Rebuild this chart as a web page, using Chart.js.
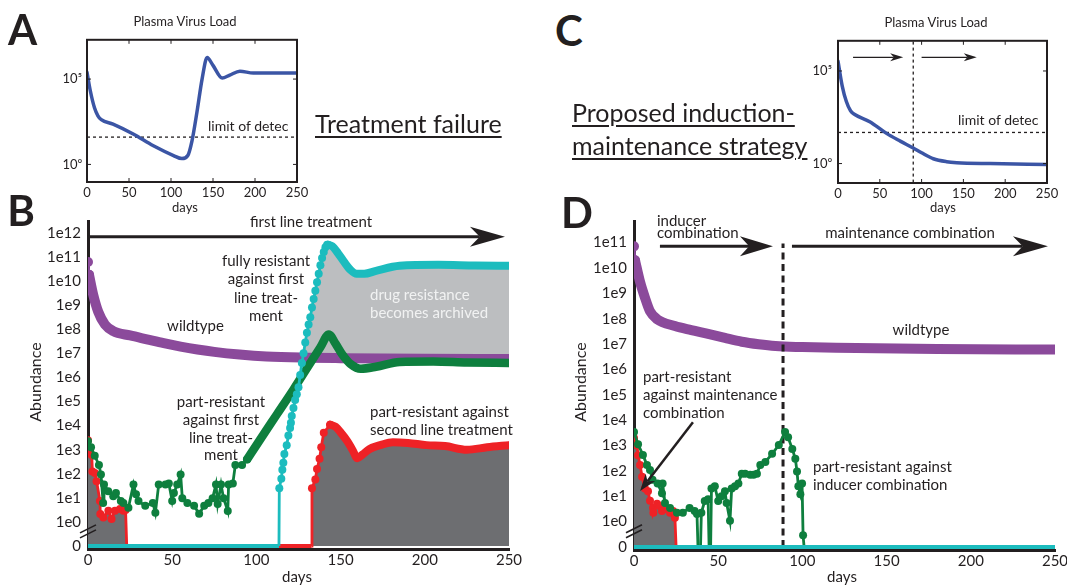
<!DOCTYPE html>
<html><head><meta charset="utf-8">
<script src="https://cdn.jsdelivr.net/npm/chart.js@4.4.1/dist/chart.umd.min.js"></script>
<style>
html,body{margin:0;padding:0;background:#fff;}
#root{position:relative;width:1067px;height:586px;overflow:hidden;font-family:Lato,'Liberation Sans',sans-serif;color:#231f20;}
canvas{position:absolute;}
.t{position:absolute;white-space:pre;}
</style></head><body><div id="root"></div>
<script>
// ---------------- DATA (log10 values; -1 stands for an abundance of 0) ----------------
const dayTicks = [0, 50, 100, 150, 200, 250];
const loadTicks = [0, 5];
const loadTickLabels = ['10\u2070', '10\u2075'];
const abundanceTicks = [-1, 0, 1, 2, 3, 4, 5, 6, 7, 8, 9, 10, 11, 12];
const abundanceTickLabels = ['0', '1e0', '1e1', '1e2', '1e3', '1e4', '1e5', '1e6', '1e7', '1e8', '1e9', '1e10', '1e11', '1e12'];

// Panel A: plasma virus load (log10), treatment failure
const plasmaLoadA = [[0,5.4],[4,4.3],[9,3.3],[13,2.85],[17,2.62],[31,2.36],[55,1.78],[79,1.09],[103,0.52],[113,0.34],[120,0.52],[125,1.38],[131,3.1],[137,5.0],[143,6.26],[150,5.8],[161,5.06],[170,5.23],[182,5.46],[198,5.35],[222,5.35],[250,5.35]];
const limitOfDetectionA = 1.6;

// Panel C: plasma virus load (log10), induction-maintenance
const plasmaLoadC = [[0,5.53],[5,4.2],[10,3.35],[15,2.85],[20,2.65],[38,2.26],[58,1.63],[75,1.2],[90,0.84],[100,0.58],[114,0.26],[130,0.1],[142,0.05],[182,0.0],[250,-0.05]];
const limitOfDetectionC = 1.68;
const switchDayC = 90;

// Panel B: abundance (log10)
const bWildtype = [[0,10.79],[0.6,10.26],[3.2,9.4],[6.1,8.72],[10.1,8.19],[15,7.92],[25,7.74],[35,7.58],[45,7.42],[55,7.28],[65,7.16],[75,7.06],[90,6.95],[106,6.87],[130,6.82],[150,6.8],[200,6.77],[250,6.76]];
const bPartResFirst = [[0,3.35],[1.8,3.1],[4,2.75],[6.5,2.37],[7.7,1.97],[9,0.79],[9.5,1.56],[12,1.28],[15,1.07],[16.6,1.2],[19.5,0.87],[21,0.79],[24,0.59],[27,1.56],[28.5,1.15],[30,0.87],[34,0.67],[38.5,0.79],[40,0.38],[42,1.56],[46,1.56],[48,1.6],[50,0.87],[51,1.2],[53,1.56],[55,1.97],[56,0.99],[59,0.79],[63,0.67],[66,0.34],[69,0.67],[71.5,0.79],[74,0.99],[76,1.56],[77,0.75],[79,1.56],[80.5,0.99],[83,0.46],[83.5,1.56],[86,1.6],[87.5,2.37],[91.5,2.37],[94.5,2.6],[102,3.4],[112,4.45],[122,5.5],[132,6.6],[138,7.25],[143,7.78],[147,7.4],[151,6.95],[156,6.55],[162,6.36],[171,6.44],[185,6.64],[205,6.66],[225,6.62],[250,6.6]];
const bFullyResistant = [[0,-1],[113.4,-1],[113.6,1.4],[114.8,1.8],[115.4,2.17],[116,2.46],[116.6,2.82],[118,3.19],[119,3.59],[120,3.9],[120.5,4.12],[121,4.4],[122,4.73],[123,5.06],[124,5.3],[125,5.59],[126,6.1],[127,6.6],[128,7.0],[129,7.45],[130,7.85],[131,8.2],[132,8.5],[133,8.9],[134,9.25],[135,9.6],[136,9.95],[137,10.3],[138,10.65],[139,10.95],[140,11.2],[141,11.4],[142,11.5],[142.6,11.5],[145,11.45],[148.5,11.15],[152,10.8],[156,10.45],[159.5,10.3],[164,10.3],[171,10.42],[185,10.63],[208,10.67],[230,10.64],[250,10.63]];
const bPartResSecond = [[0,3.39],[1.2,2.98],[2.2,2.78],[2.6,2.1],[4.1,2.03],[5.1,1.69],[7.1,0.87],[7.3,0.33],[9.1,0.19],[12.1,0.47],[14,0.13],[16,0.47],[19,0.54],[21,0.47],[22.3,0.5],[23,-1],[132.8,-1],[133,1.4],[135,1.76],[136,2.2],[137.5,2.62],[138.5,3.1],[140,3.7],[143.8,4.04],[147,3.95],[150,3.72],[154,3.35],[157,3.0],[160,2.65],[163,2.8],[167,3.02],[174,3.2],[181,3.31],[190,3.28],[201,3.19],[212,3.15],[225,3.0],[237,3.1],[250,3.19]];

// Panel D: abundance (log10)
const dWildtype = [[0,10.85],[0.6,10.3],[3.6,9.45],[6.5,8.83],[9.5,8.29],[13.7,7.98],[24.3,7.71],[34,7.55],[44,7.4],[54,7.24],[64,7.09],[74,6.99],[84,6.92],[100,6.88],[120,6.85],[180,6.8],[250,6.78]];
const dPartResInducer = [[0,3.53],[2.4,3.05],[5.3,2.63],[7.7,2.23],[9.5,2.03],[11,1.65],[14,1.5],[16.6,1.12],[17,1.5],[18.4,0.73],[21.4,0.54],[25.5,0.35],[29,0.35],[33,0.54],[36,0.42],[37.4,0.3],[38,-1],[39.5,-1],[40,0.35],[42,0.81],[44,0.88],[44.6,-1],[45.5,-1],[46,1.3],[48,1.39],[50,0.81],[52,1.0],[54,1.2],[55,0.73],[57,0.03],[58,1.3],[60,1.39],[62,1.5],[64,1.89],[66,1.89],[69,1.85],[71,1.85],[73,1.89],[75,2.23],[78,2.35],[82,2.67],[86,3.02],[89.7,3.53],[91.5,3.32],[94,2.86],[95.8,2.48],[96.8,1.97],[97.6,1.39],[98.8,1.08],[99.8,1.5],[100.4,-0.54],[101,-1],[250,-1]];
const dPartResMaintenance = [[0,3.3],[1.8,3.0],[2.4,2.62],[3.6,2.23],[4.8,1.77],[6.5,1.3],[8.3,1.2],[9.5,0.82],[11.3,0.54],[11.5,0.35],[13.7,0.7],[15.4,0.6],[16.6,0.42],[18.4,0.5],[21.4,0.35],[23.2,0.42],[24.3,0.15],[25,-1],[250,-1]];
const dFullyResistant = [[0,-1],[250,-1]];
const switchDayD = 88.5;

// ---------------- STYLE ----------------
const INK = '#231f20', TEAL = '#1cbcbe', GREEN = '#0e7f3e', RED = '#ee2226', PURPLE = '#8b4a9b', BLUE = '#3b55a5', LG = '#bcbec0', DG = '#6d6e71';
const NONE = 'rgba(0,0,0,0)';
Chart.defaults.font.family = 'Lato, "Liberation Sans", sans-serif';
Chart.defaults.color = INK;
const root = document.getElementById('root');

const P = a => a.map(([x, y]) => ({x, y}));
const splitAt = (s, d) => [s.filter(p => p[0] <= d), s.filter(p => p[0] >= d)];

function dotted(series, color, r, extra) {
  const data = P(series);
  return Object.assign({
    data, borderColor: color, backgroundColor: color, pointBackgroundColor: color, pointBorderWidth: 0,
    tension: 0, borderWidth: 2.8, fill: false,
    pointRadius: ctx => (ctx.dataIndex !== undefined && data[ctx.dataIndex] && data[ctx.dataIndex].y <= -1) ? 0 : r,
    segment: { borderWidth: ctx => (data[ctx.p0DataIndex].y <= -1 && data[ctx.p1DataIndex].y <= -1) ? 4 : 2.8 }
  }, extra || {});
}
function thick(series, color, w, extra) {
  return Object.assign({
    data: P(series), borderColor: color, backgroundColor: color, borderWidth: w, pointRadius: 0,
    cubicInterpolationMode: 'monotone', borderCapStyle: 'round', borderJoinStyle: 'round', fill: false
  }, extra || {});
}
function fillOnly(series, fill, color) {
  return {data: P(series), borderColor: NONE, backgroundColor: color, borderWidth: 1, pointRadius: 0, tension: 0, fill};
}

function drawArrow(ctx, x0, y0, x1, y1, lw, L, W) {
  const a = Math.atan2(y1 - y0, x1 - x0), c = Math.cos(a), s = Math.sin(a);
  const nx = x1 - c * L * 0.72, ny = y1 - s * L * 0.72;
  const px = x1 - c * L, py = y1 - s * L;
  ctx.save();
  ctx.strokeStyle = INK; ctx.fillStyle = INK; ctx.lineWidth = lw;
  ctx.beginPath(); ctx.moveTo(x0, y0); ctx.lineTo(nx, ny); ctx.stroke();
  ctx.beginPath(); ctx.moveTo(x1, y1);
  ctx.lineTo(px - s * W, py + c * W);
  ctx.lineTo(nx, ny);
  ctx.lineTo(px + s * W, py - c * W);
  ctx.closePath(); ctx.fill();
  ctx.restore();
}

function decoPlugin(spec) {
  return {
    id: 'deco',
    afterDraw(chart) {
      const ctx = chart.ctx, xs = chart.scales.x, ys = chart.scales.y, a = chart.chartArea;
      if (spec.frame) {
        ctx.save(); ctx.strokeStyle = INK; ctx.lineWidth = 2;
        ctx.strokeRect(a.left, a.top, a.right - a.left, a.bottom - a.top);
        ctx.lineWidth = 1;
        ctx.beginPath();
        spec.xTicks.forEach(v => { const p = xs.getPixelForValue(v); ctx.moveTo(p, a.bottom); ctx.lineTo(p, a.bottom - 4); ctx.moveTo(p, a.top); ctx.lineTo(p, a.top + 4); });
        spec.yTicks.forEach(v => { const p = ys.getPixelForValue(v); ctx.moveTo(a.left, p); ctx.lineTo(a.left + 4, p); ctx.moveTo(a.right, p); ctx.lineTo(a.right - 4, p); });
        ctx.stroke(); ctx.restore();
      }
      if (spec.brk !== undefined) {
        const y = ys.getPixelForValue(spec.brk), x = a.left;
        ctx.save(); ctx.strokeStyle = INK; ctx.lineWidth = 1.6;
        [-2.5, 2.5].forEach(dy => { ctx.beginPath(); ctx.moveTo(x - 8, y + dy + 4); ctx.lineTo(x + 8, y + dy - 4); ctx.stroke(); });
        ctx.restore();
      }
      (spec.arrows || []).forEach(r => {
        drawArrow(ctx, xs.getPixelForValue(r[0]), ys.getPixelForValue(r[1]), xs.getPixelForValue(r[2]), ys.getPixelForValue(r[3]), r[4], r[5], r[6]);
      });
    }
  };
}

function panel(o) {
  const left = o.area.l - o.yW, top = o.area.t - o.padT;
  const w = o.area.r + o.padR - left, h = o.area.b + o.xH - top;
  const c = document.createElement('canvas');
  c.width = w; c.height = h;
  c.style.left = left + 'px'; c.style.top = top + 'px'; c.style.width = w + 'px'; c.style.height = h + 'px';
  root.appendChild(c);
  const borderOpt = {display: !!o.border, color: INK, width: 3};
  return new Chart(c, {
    type: 'line',
    data: {datasets: o.datasets},
    options: {
      responsive: false, animation: false, devicePixelRatio: 1,
      layout: {padding: {left: 0, top: o.padT, right: o.padR, bottom: 0}},
      plugins: {legend: {display: false}, tooltip: {enabled: false}, filler: {drawTime: 'beforeDatasetsDraw'}},
      scales: {
        x: {
          type: 'linear', min: o.xMin, max: o.xMax,
          grid: {display: false, drawTicks: false}, border: borderOpt,
          ticks: {font: {size: o.font}, color: INK, padding: o.xPad, maxRotation: 0, autoSkip: false, callback: v => String(v)},
          afterBuildTicks: s => { s.ticks = o.xTicks.map(v => ({value: v})); },
          afterFit: s => { s.height = o.xH; }
        },
        y: {
          type: 'linear', min: o.yMin, max: o.yMax,
          grid: {display: false, drawTicks: false}, border: borderOpt,
          ticks: {font: {size: o.font}, color: INK, padding: o.yPad, autoSkip: false, callback: v => o.yLabels[o.yTicks.indexOf(v)]},
          afterBuildTicks: s => { s.ticks = o.yTicks.map(v => ({value: v})); },
          afterFit: s => { s.width = o.yW; }
        }
      }
    },
    plugins: [decoPlugin(o.deco)]
  });
}

// ---------- Panel A ----------
panel({
  area: {l: 87, t: 37, r: 297, b: 182}, yW: 50, xH: 20, padT: 10, padR: 20,
  xMin: 0, xMax: 250, yMin: -1.03, yMax: 7.3, xTicks: dayTicks, yTicks: loadTicks, yLabels: loadTickLabels,
  font: 13, xPad: 3, yPad: 5,
  datasets: [
    thick(plasmaLoadA, BLUE, 3.5),
    {data: P([[0, limitOfDetectionA], [250, limitOfDetectionA]]), borderColor: INK, borderWidth: 1.3, borderDash: [3, 3], pointRadius: 0}
  ],
  deco: {frame: true, xTicks: dayTicks, yTicks: loadTicks}
});

// ---------- Panel C ----------
panel({
  area: {l: 838, t: 37, r: 1047, b: 183}, yW: 50, xH: 20, padT: 10, padR: 20,
  xMin: 0, xMax: 250, yMin: -1.05, yMax: 6.63, xTicks: dayTicks, yTicks: loadTicks, yLabels: loadTickLabels,
  font: 13, xPad: 3, yPad: 6,
  datasets: [
    thick(plasmaLoadC, BLUE, 3.5),
    {data: P([[0, limitOfDetectionC], [250, limitOfDetectionC]]), borderColor: INK, borderWidth: 1.3, borderDash: [3, 3], pointRadius: 0},
    {data: P([[switchDayC, -2], [switchDayC, 8]]), borderColor: INK, borderWidth: 1.3, borderDash: [3, 3], pointRadius: 0}
  ],
  deco: {frame: true, xTicks: dayTicks, yTicks: loadTicks, arrows: [[18, 5.74, 78, 5.74, 1.2, 13, 4], [100, 5.74, 166, 5.74, 1.2, 13, 4]]}
});

// ---------- Panel B ----------
{
  const [tDot, tThick] = splitAt(bFullyResistant, 142.6);
  const [gDot, gThick] = splitAt(bPartResFirst, 94.5);
  const [rDot, rThick] = splitAt(bPartResSecond, 143.8);
  const [pDot, pThick] = splitAt(bWildtype, 0.6);
  panel({
    area: {l: 88, t: 215, r: 509, b: 549}, yW: 60, xH: 22, padT: 10, padR: 22,
    xMin: 0, xMax: 250, yMin: -1.12, yMax: 12.49, xTicks: dayTicks, yTicks: abundanceTicks, yLabels: abundanceTickLabels,
    font: 15, xPad: 2, yPad: 7, border: true,
    datasets: [
      dotted(tDot, TEAL, 4),
      thick(tThick, TEAL, 8),
      dotted(gDot, GREEN, 4),
      thick(gThick, GREEN, 8.5),
      dotted(rDot, RED, 4),
      thick(rThick, RED, 8),
      dotted(pDot, PURPLE, 5),
      thick(pThick, PURPLE, 10),
      fillOnly(bFullyResistant, {target: 7, above: LG, below: NONE}, LG),
      fillOnly(bPartResSecond, {value: -1}, DG)
    ],
    deco: {brk: -0.39, arrows: [[0, 11.84, 247.6, 11.84, 3, 35, 10]]}
  });
}

// ---------- Panel D ----------
{
  const [pDot, pThick] = splitAt(dWildtype, 0.6);
  panel({
    area: {l: 634, t: 215, r: 1055, b: 550}, yW: 60, xH: 22, padT: 10, padR: 22,
    xMin: 0, xMax: 250, yMin: -1.12, yMax: 11.85, xTicks: dayTicks, yTicks: abundanceTicks.slice(0, 13), yLabels: abundanceTickLabels.slice(0, 13),
    font: 15, xPad: 2, yPad: 7, border: true,
    datasets: [
      dotted(dFullyResistant, TEAL, 0),
      dotted(dPartResInducer, GREEN, 4),
      dotted(dPartResMaintenance, RED, 4),
      {data: P([[switchDayD, -1], [switchDayD, 10.96]]), borderColor: INK, borderWidth: 3, borderDash: [7, 4.5], pointRadius: 0},
      dotted(pDot, PURPLE, 5),
      thick(pThick, PURPLE, 10),
      fillOnly(dPartResMaintenance, {value: -1}, DG)
    ],
    deco: {brk: -0.38, arrows: [[15.4, 10.85, 82.5, 10.85, 3, 33, 10], [93.8, 10.85, 245.8, 10.85, 3, 35, 10], [35, 3.92, 3.6, 1.21, 2.5, 17, 6]]}
  });
}

// ---------------- TEXT ----------------
function txt(lines, x, y, o) {
  o = o || {};
  const F = o.size || 15, lh = o.lh || Math.round(F * 1.2);
  const d = document.createElement('div');
  d.className = 't';
  d.style.fontSize = F + 'px';
  d.style.lineHeight = lh + 'px';
  d.style.left = x + 'px';
  d.style.top = (y - lh / 2) + 'px';
  d.style.textAlign = o.align || 'left';
  if (o.bold) d.style.fontWeight = '700';
  if (o.color) d.style.color = o.color;
  if (o.underline) { d.style.textDecoration = 'underline'; d.style.textDecorationThickness = '1.6px'; d.style.textUnderlineOffset = '3px'; }
  const tx = o.align === 'center' ? '-50%' : o.align === 'right' ? '-100%' : '0';
  d.style.transform = 'translateX(' + tx + ')';
  if (o.rotate) { d.style.top = y + 'px'; d.style.lineHeight = F + 'px'; d.style.transform = 'translate(-50%,-50%) rotate(-90deg)'; }
  d.textContent = lines.join('\n');
  root.appendChild(d);
}

txt(['A'], 22.5, 29, {size: 42, bold: true, align: 'center'});
txt(['B'], 21, 210, {size: 42, bold: true, align: 'center'});
txt(['C'], 569, 30, {size: 42, bold: true, align: 'center'});
txt(['D'], 577, 212, {size: 42, bold: true, align: 'center'});

txt(['Plasma Virus Load'], 185, 21, {size: 13, align: 'center'});
txt(['Plasma Virus Load'], 936, 22, {size: 13, align: 'center'});
txt(['days'], 185, 207, {size: 13, align: 'center'});
txt(['days'], 943, 207, {size: 13, align: 'center'});
txt(['limit of detec'], 208, 125, {size: 14});
txt(['limit of detec'], 958, 119, {size: 14});

txt(['Treatment failure'], 315, 123, {size: 25, underline: true});
txt(['Proposed induction-', 'maintenance strategy'], 572, 112, {size: 25, lh: 33, underline: true});

txt(['first line treatment'], 311, 221, {size: 15, align: 'center'});
txt(['fully resistant', 'against first', 'line treat-', 'ment'], 266, 260, {size: 15, lh: 18.5, align: 'center'});
txt(['wildtype'], 195.5, 325, {size: 15, align: 'center'});
txt(['drug resistance', 'becomes archived'], 370, 294, {size: 15, lh: 18, color: '#f1f2f2'});
txt(['part-resistant', 'against first', 'line treat-', 'ment'], 221, 402, {size: 15, lh: 17.7, align: 'center'});
txt(['part-resistant against', 'second line treatment'], 370, 411, {size: 15, lh: 18});
txt(['Abundance'], 35, 382, {size: 16, rotate: true});
txt(['days'], 297, 576, {size: 15, align: 'center'});

txt(['inducer', 'combination'], 657, 220, {size: 15, lh: 12.5});
txt(['maintenance combination'], 910, 232, {size: 15, align: 'center'});
txt(['wildtype'], 921, 329, {size: 15, align: 'center'});
txt(['part-resistant', 'against maintenance', 'combination'], 643, 376, {size: 15, lh: 18});
txt(['part-resistant against', 'inducer combination'], 813, 466, {size: 15, lh: 18});
txt(['Abundance'], 580, 382, {size: 16, rotate: true});
txt(['days'], 842, 576, {size: 15, align: 'center'});
</script>
</body></html>
